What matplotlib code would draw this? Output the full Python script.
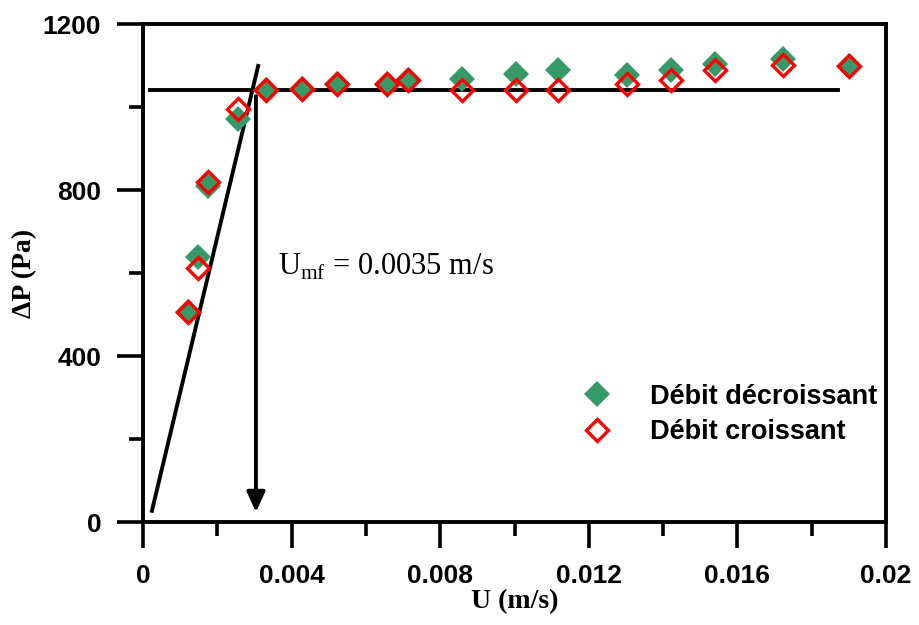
import matplotlib
matplotlib.use("Agg")
import matplotlib.pyplot as plt

# superficial velocity (m/s) and pressure drop (Pa)
u_dec = [0.00121, 0.00148, 0.00175, 0.00256, 0.00331, 0.00428, 0.00522, 0.00657, 0.00712,
         0.00859, 0.01004, 0.01117, 0.01303, 0.01421, 0.01540, 0.01723, 0.01900]
dp_dec = [507, 638, 810, 970, 1041, 1043, 1055, 1055, 1066,
          1068, 1080, 1090, 1078, 1090, 1104, 1116, 1100]

u_inc = [0.00121, 0.00148, 0.00175, 0.00256, 0.00331, 0.00428, 0.00522, 0.00657, 0.00712,
         0.00859, 0.01004, 0.01117, 0.01303, 0.01421, 0.01540, 0.01723, 0.01900]
dp_inc = [507, 612, 820, 996, 1041, 1043, 1055, 1055, 1066,
          1041, 1041, 1041, 1055, 1066, 1090, 1102, 1100]

# fitted lines: fixed-bed slope and fluidized plateau
fixed_u = [0.00024, 0.00310]
fixed_dp = [27, 1099]
plateau_u = [0.00019, 0.01870]
plateau_dp = [1040, 1040]
u_mf = 0.00304

xticks = [0, 0.004, 0.008, 0.012, 0.016, 0.02]
xtick_labels = ["0", "0.004", "0.008", "0.012", "0.016", "0.02"]
xminor = [0.002, 0.006, 0.010, 0.014, 0.018]
yticks = [0, 400, 800, 1200]
yminor = [200, 600, 1000]

green = "#359a66"
red = "#ff0000"
sans = "Liberation Sans"
serif = "Liberation Serif"

plt.rcParams["mathtext.fontset"] = "custom"
plt.rcParams["mathtext.rm"] = serif

fig = plt.figure(figsize=(9.19, 6.25), dpi=100)
ax = fig.add_axes([143 / 919, 1 - 522 / 625, 743 / 919, 498 / 625])

ax.plot(u_dec, dp_dec, ls="none", marker="D", ms=13, mfc=green, mec=green, mew=0,
        label="Débit décroissant", zorder=3)
ax.plot(u_inc, dp_inc, ls="none", marker="D", ms=11.5, mfc="none", mec=red, mew=2.4,
        label="Débit croissant", zorder=4)

ax.plot(fixed_u, fixed_dp, color="black", lw=2.8, zorder=2)
ax.plot(plateau_u, plateau_dp, color="black", lw=2.8, zorder=2)
ax.annotate("", xy=(u_mf, 24), xytext=(u_mf, 1026),
            arrowprops=dict(arrowstyle="-|>,head_length=1.2,head_width=0.55",
                            color="black", lw=2.8, shrinkA=0, shrinkB=0), zorder=2)

ax.text(0.00363, 595, r"U$_{\mathrm{mf}}$ = 0.0035 m/s", fontsize=22,
        family=serif, va="baseline", ha="left")

ax.set_xlim(0, 0.02)
ax.set_ylim(0, 1200)
ax.set_xticks(xticks, xtick_labels)
ax.set_xticks(xminor, minor=True)
ax.set_yticks(yticks, [str(v) for v in yticks])
ax.set_yticks(yminor, minor=True)

ax.tick_params(which="major", direction="out", length=19, width=2.6, pad=11)
ax.tick_params(which="minor", direction="out", length=10, width=2.6)
for lab in ax.get_xticklabels() + ax.get_yticklabels():
    lab.set_family(sans)
    lab.set_fontweight("bold")
    lab.set_fontsize(19)
for s in ax.spines.values():
    s.set_linewidth(2.8)

ax.set_xlabel("U (m/s)", family=serif, fontweight="bold", fontsize=20, labelpad=1)
ax.set_ylabel("ΔP (Pa)", family=serif, fontweight="bold", fontsize=20, labelpad=4)

ax.legend(loc="upper left", bbox_to_anchor=(0.593, 0.278), frameon=False,
          prop={"family": sans, "weight": "bold", "size": 19.5},
          handlelength=1.0, handletextpad=1.45, borderpad=0, borderaxespad=0,
          labelspacing=0.36)

fig.savefig("out.png", dpi=100)
